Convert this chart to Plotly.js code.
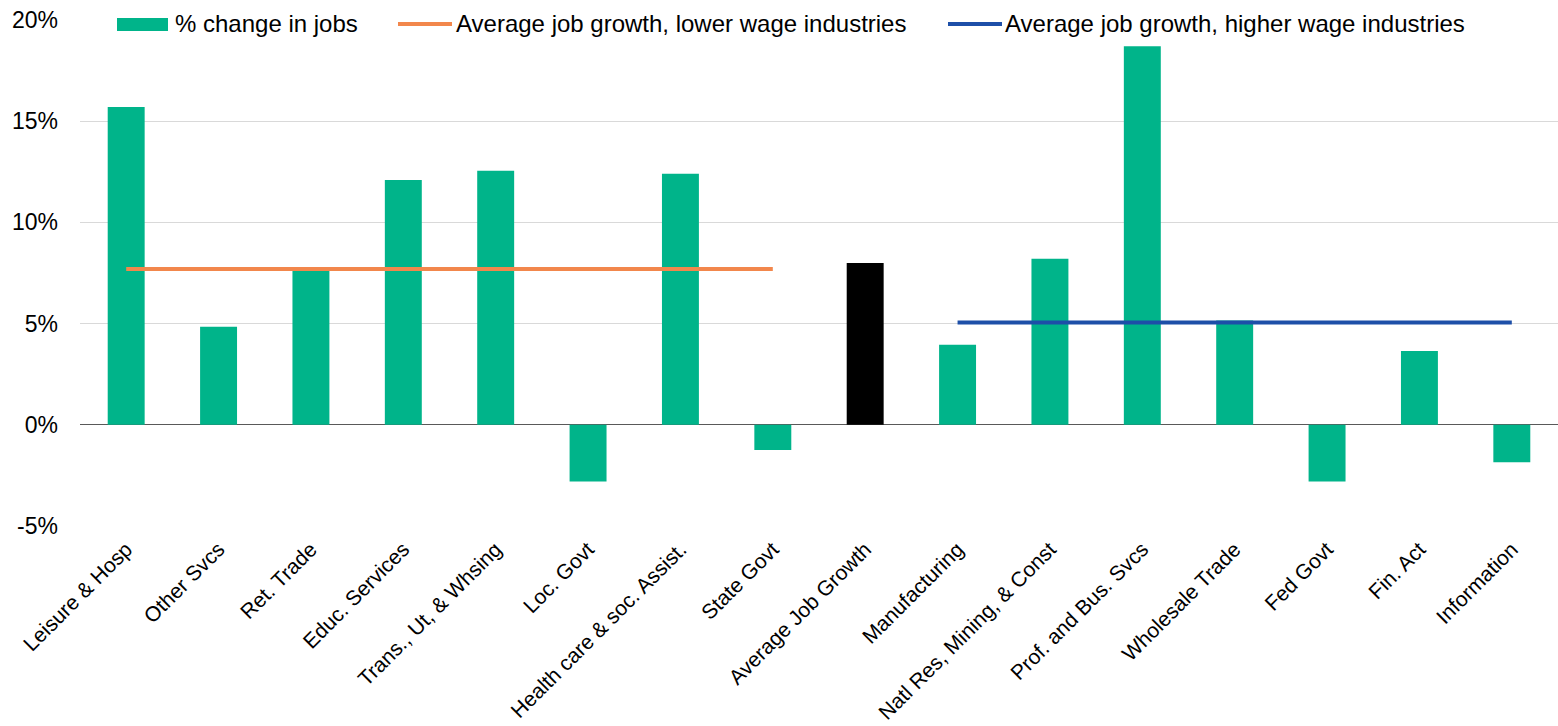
<!DOCTYPE html>
<html>
<head>
<meta charset="utf-8">
<script src="https://cdn.plot.ly/plotly-3.0.1.min.js"></script>
<style>html,body{margin:0;padding:0;background:#fff;}#chart{width:1558px;height:726px;}</style>
</head>
<body>
<div id="chart"></div>
<script>
const categories = ["Leisure & Hosp","Other Svcs","Ret. Trade","Educ. Services","Trans., Ut, & Whsing","Loc. Govt","Health care & soc. Assist.","State Govt","Average Job Growth","Manufacturing","Natl Res, Mining, & Const","Prof. and Bus. Svcs","Wholesale Trade","Fed Govt","Fin. Act","Information"];
const pctChange = [15.7, 4.85, 7.75, 12.1, 12.55, -2.8, 12.4, -1.25, 8.0, 3.95, 8.2, 18.7, 5.15, -2.8, 3.65, -1.85];
const lowerWageCats = categories.slice(0, 8);
const lowerWageAvg = [7.7, 7.7, 7.7, 7.7, 7.7, 7.7, 7.7, 7.7];
const higherWageCats = categories.slice(9);
const higherWageAvg = [5.05, 5.05, 5.05, 5.05, 5.05, 5.05, 5.05];
const yTickVals = [-5, 0, 5, 10, 15, 20];
const yTickText = ["-5%", "0%", "5%", "10%", "15%", "20%"];
const legendNames = ["% change in jobs", "Average job growth, lower wage industries", "Average job growth, higher wage industries"];

const GREEN = "#00B48A", ORANGE = "#F2874C", BLUE = "#1D4FA8";
const barColors = categories.map(c => c === "Average Job Growth" ? "#000000" : GREEN);

const traces = [
  {type: "bar", x: categories, y: pctChange, width: 0.4, marker: {color: barColors}, name: legendNames[0], hoverinfo: "x+y"},
  {type: "scatter", mode: "lines", x: lowerWageCats, y: lowerWageAvg, line: {color: ORANGE, width: 4}, name: legendNames[1]},
  {type: "scatter", mode: "lines", x: higherWageCats, y: higherWageAvg, line: {color: BLUE, width: 4}, name: legendNames[2]}
];

// plot area pixel geometry for legend placement
const L = 80, R = 1558, T = 20, B = 526;
const px = x => (x - L) / (R - L);
const py = y => 1 - (y - T) / (B - T);

const shapes = [
  {type: "rect", xref: "paper", yref: "paper", x0: px(117), x1: px(168), y0: py(31), y1: py(18), fillcolor: GREEN, line: {width: 0}},
  {type: "line", xref: "paper", yref: "paper", x0: px(398), x1: px(452), y0: py(24), y1: py(24), line: {color: ORANGE, width: 4}},
  {type: "line", xref: "paper", yref: "paper", x0: px(948), x1: px(1002), y0: py(24), y1: py(24), line: {color: BLUE, width: 4}}
];
const annotations = [
  {xref: "paper", yref: "paper", x: px(173), y: py(24), xanchor: "left", yanchor: "middle", text: legendNames[0], showarrow: false, font: {size: 24, color: "#000"}},
  {xref: "paper", yref: "paper", x: px(454), y: py(24), xanchor: "left", yanchor: "middle", text: legendNames[1], showarrow: false, font: {size: 24, color: "#000"}},
  {xref: "paper", yref: "paper", x: px(1003), y: py(24), xanchor: "left", yanchor: "middle", text: legendNames[2], showarrow: false, font: {size: 24, color: "#000"}}
];

const layout = {
  width: 1558, height: 726,
  margin: {l: L, r: 0, t: T, b: 726 - B, pad: 0},
  paper_bgcolor: "#fff", plot_bgcolor: "#fff",
  font: {family: "Liberation Sans, Arial, sans-serif", size: 20, color: "#000"},
  showlegend: false,
  xaxis: {type: "category", tickangle: -45, tickfont: {size: 21, color: "#000"}, showgrid: false, showline: false, ticks: "", ticklabelstandoff: 6, automargin: false},
  yaxis: {range: [-5, 20], tickvals: yTickVals, ticktext: yTickText, tickfont: {size: 23, color: "#000"}, showgrid: true, gridcolor: "#D9D9D9", gridwidth: 1, zeroline: true, zerolinecolor: "#595959", zerolinewidth: 1, ticks: "", ticklabelstandoff: 21, automargin: false},
  shapes: shapes,
  annotations: annotations
};

Plotly.newPlot("chart", traces, layout, {displayModeBar: false, staticPlot: true});
</script>
</body>
</html>
